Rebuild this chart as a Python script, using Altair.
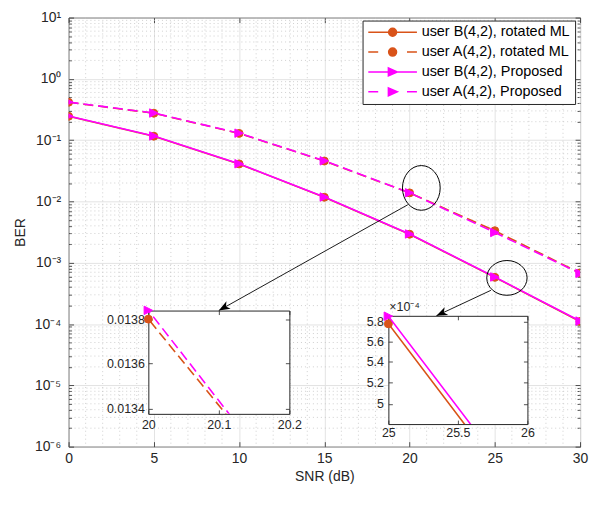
import altair as alt
import pandas as pd

# ------------------------------------------------------------------ data
snr = [0, 5, 10, 15, 20, 25, 30]
ber_userB_rotated_ml = [0.245, 0.116, 0.041, 0.0117, 0.00292, 5.78e-4, 1.10e-4]
ber_userA_rotated_ml = [0.415, 0.275, 0.129, 0.0457, 0.0138, 3.33e-3, 6.8e-4]
ber_userB_proposed = [0.247, 0.117, 0.0412, 0.0118, 0.00295, 5.86e-4, 1.12e-4]
ber_userA_proposed = [0.418, 0.277, 0.130, 0.0460, 0.01384, 3.12e-3, 6.7e-4]

series_names = [
    "user B(4,2), rotated ML",
    "user A(4,2), rotated ML",
    "user B(4,2), Proposed",
    "user A(4,2), Proposed",
]
series_values = [ber_userB_rotated_ml, ber_userA_rotated_ml,
                 ber_userB_proposed, ber_userA_proposed]

x_ticks = [0, 5, 10, 15, 20, 25, 30]
x_minor_grid = [v for v in range(1, 30) if v % 5 != 0]
y_ticks = [1e-6, 1e-5, 1e-4, 1e-3, 1e-2, 1e-1, 1.0, 10.0]
y_minor_ticks = [k * 10.0 ** e for e in range(-6, 1) for k in range(2, 10)]

inset1_x_domain = [20.0, 20.2]
inset1_y_domain = [0.013376, 0.013839]
inset1_x_ticks = [20.0, 20.1, 20.2]
inset1_y_ticks = [0.0134, 0.0136, 0.0138]

inset2_x_domain = [25.0, 26.0]
inset2_y_domain = [4.82e-4, 5.864e-4]
inset2_x_ticks = [25.0, 25.5, 26.0]
inset2_y_ticks = [5.0e-4, 5.2e-4, 5.4e-4, 5.6e-4, 5.8e-4]
inset2_exponent_text = ["\u00d710\u207b\u2074"]

ellipse_snr = [20.69, 25.71]
ellipse_ber = [0.01663, 5.66e-4]
arrow_from_snr = [19.9, 24.77]
arrow_from_ber = [0.00885, 3.55e-4]
arrow_to_snr = [8.81, 21.57]
arrow_to_ber = [1.66e-4, 1.36e-4]

# ------------------------------------------------------------------ style
FONT = "Liberation Sans, Arial, Helvetica, sans-serif"
AX = "#262626"
ORANGE = "#D95319"
MAGENTA = "#FF00FF"
MAJOR_GRID = "#e3e3e3"
MINOR_GRID = "#c4c4c4"
series_color = [ORANGE, ORANGE, MAGENTA, MAGENTA]
series_dashed = [False, True, False, True]
series_is_ml = [True, True, False, False]
DASH = [10, 5]
TRI = "M-1,-1L1,0L-1,1Z"
# legend symbols: line sample with the marker in its middle, drawn 3.7 units right of the nominal centre
CIRC = "M2.9,0A0.8,0.8 0 1,0 4.5,0A0.8,0.8 0 1,0 2.9,0Z"
TRI_L = "M2.85,-0.8L4.65,0L2.85,0.8Z"
legend_paths = [
    "M-1.2,0L8.6,0" + CIRC,
    "M-1.2,0L0.8,0M6.6,0L8.6,0" + CIRC,
    "M-1.2,0L8.6,0" + TRI_L,
    "M-1.2,0L0.8,0M6.6,0L8.6,0" + TRI_L,
]
ELL1 = "M-0.844,0A0.844,1 0 1,0 0.844,0A0.844,1 0 1,0 -0.844,0Z"
ELL2 = "M-1,0A1,0.862 0 1,0 1,0A1,0.862 0 1,0 -1,0Z"
ARROW = "M0,0L0.5,1.3L0,0.95L-0.5,1.3Z"
arrow_angles = [240.8, 245.2]

SUP_EXPR = ("'10' + (round(log(datum.value) / LN10) < 0 ? '\u207b' : '') + "
            "['\u2070','\u00b9','\u00b2','\u00b3','\u2074','\u2075','\u2076','\u2077','\u2078','\u2079']"
            "[abs(round(log(datum.value) / LN10))]")

W, H = 515, 432

rows = [{"snr": s, "ber": b, "series": n}
        for n, vals in zip(series_names, series_values)
        for s, b in zip(snr, vals)]
df = pd.DataFrame(rows)


def xenc(scale, field="snr", axis=None):
    return alt.X(field, type="quantitative", scale=scale, axis=axis)


def yenc(scale, field="ber", axis=None):
    return alt.Y(field, type="quantitative", scale=scale, axis=axis)


def data_layers(xs, ys, marker_filters=None, clip_markers=True, lw=1.6):
    layers = []
    for group in ([0, 1], [2, 3]):
        for i in group:
            kw = dict(color=series_color[i], strokeWidth=lw, clip=True)
            if series_dashed[i]:
                kw["strokeDash"] = DASH
            layers.append(
                alt.Chart(df)
                .transform_filter(alt.datum.series == series_names[i])
                .mark_line(**kw)
                .encode(x=xenc(xs), y=yenc(ys))
            )
        for i in group:
            if series_is_ml[i]:
                mk = dict(shape="circle", size=64)
            else:
                mk = dict(shape=TRI, size=72)
            base = alt.Chart(df).transform_filter(alt.datum.series == series_names[i])
            if marker_filters:
                for f in marker_filters:
                    base = base.transform_filter(f)
            layers.append(
                base.mark_point(filled=True, fill=series_color[i], stroke=series_color[i],
                                strokeWidth=1, opacity=1, clip=clip_markers, **mk)
                .encode(x=xenc(xs), y=yenc(ys))
            )
    return layers


def frame_layers(xs, ys, xdom, ydom, w, h, x_label_axis, y_label_axis,
                 x_major, y_major, y_minor=None, major=5, minor=3):
    cdf = pd.DataFrame({"cx": [xdom[0]], "cy": [ydom[0]]})
    base = alt.Chart(cdf).mark_point(opacity=0)
    tk = dict(labels=False, domain=False, grid=False, ticks=True,
              tickColor=AX, tickWidth=0.8, title=None)
    out = [base.encode(x=xenc(xs, "cx", x_label_axis), y=yenc(ys, "cy", y_label_axis))]
    out.append(base.encode(
        x=xenc(xs, "cx", alt.Axis(orient="top", offset=-h, values=x_major, tickSize=major, **tk)),
        y=yenc(ys, "cy", alt.Axis(orient="right", offset=-w, values=y_major, tickSize=major, **tk))))
    out.append(base.encode(
        x=xenc(xs, "cx", alt.Axis(orient="bottom", offset=-h, values=x_major, tickSize=major, **tk)),
        y=yenc(ys, "cy", alt.Axis(orient="left", offset=-w, values=y_major, tickSize=major, **tk))))
    if y_minor:
        out.append(base.encode(
            x=xenc(xs, "cx"),
            y=yenc(ys, "cy", alt.Axis(orient="right", offset=-w, values=y_minor, tickSize=minor, **tk))))
        out.append(base.encode(
            x=xenc(xs, "cx"),
            y=yenc(ys, "cy", alt.Axis(orient="left", offset=-w, values=y_minor, tickSize=minor, **tk))))
    return out


# ------------------------------------------------------------------ main plot
xs_main = alt.Scale(domain=[0, 30], nice=False, zero=False)
ys_main = alt.Scale(type="log", domain=[1e-6, 10], nice=False)

main_x_axis = alt.Axis(orient="bottom", values=x_ticks, format="~g", ticks=False, domain=False,
                       grid=True, gridColor=MAJOR_GRID, gridWidth=1, labelFontSize=14,
                       labelColor=AX, labelPadding=5, labelFlush=False, labelOverlap=False,
                       title="SNR (dB)", titleFontSize=14, titleFontWeight="normal",
                       titleColor=AX, titlePadding=4)
main_y_axis = alt.Axis(orient="left", values=y_ticks, labelExpr=SUP_EXPR, ticks=False, domain=False,
                       grid=True, gridColor=MAJOR_GRID, gridWidth=1, labelFontSize=14,
                       labelColor=AX, labelPadding=8, labelOverlap=False,
                       title="BER", titleFontSize=14, titleFontWeight="normal",
                       titleColor=AX, titlePadding=7)

grid_x = (alt.Chart(pd.DataFrame({"v": x_minor_grid}))
          .mark_rule(color=MINOR_GRID, strokeWidth=0.8, strokeDash=[1, 3])
          .encode(x=xenc(xs_main, "v")))
grid_y = (alt.Chart(pd.DataFrame({"v": y_minor_ticks}))
          .mark_rule(color=MINOR_GRID, strokeWidth=0.8, strokeDash=[1, 3])
          .encode(y=yenc(ys_main, "v")))

ell_layers = []
for i, (shp, sz) in enumerate([(ELL1, 2025), (ELL2, 1648)]):
    ell_layers.append(
        alt.Chart(pd.DataFrame({"snr": [ellipse_snr[i]], "ber": [ellipse_ber[i]]}))
        .mark_point(shape=shp, size=sz, filled=False, color="black", stroke="black",
                    strokeWidth=1, opacity=1)
        .encode(x=xenc(xs_main), y=yenc(ys_main))
    )

arr_df = pd.DataFrame({"x1": arrow_from_snr, "y1": arrow_from_ber,
                       "x2": arrow_to_snr, "y2": arrow_to_ber})
arrow_rules = (alt.Chart(arr_df).mark_rule(color="black", strokeWidth=0.9)
               .encode(x=xenc(xs_main, "x1"), y=yenc(ys_main, "y1"),
                       x2=alt.X2("x2"), y2=alt.Y2("y2")))
arrow_heads = []
for i in range(len(arrow_to_snr)):
    arrow_heads.append(
        alt.Chart(pd.DataFrame({"x2": [arrow_to_snr[i]], "y2": [arrow_to_ber[i]]}))
        .mark_point(shape=ARROW, size=300, angle=arrow_angles[i], filled=True,
                    color="black", opacity=1)
        .encode(x=xenc(xs_main, "x2"), y=yenc(ys_main, "y2"))
    )

leg = alt.Legend(title=None, orient="none", legendX=296, legendY=3, padding=4.5,
                 fillColor="white", strokeColor=AX, cornerRadius=0,
                 labelFont=FONT, labelFontSize=14.5, labelColor="black",
                 labelOffset=40.5, labelLimit=300, rowPadding=4,
                 symbolStrokeWidth=1.5, zindex=1)
legend_layer = (
    alt.Chart(pd.DataFrame({"series": series_names}))
    .transform_filter("false")
    .mark_point(size=100, strokeWidth=1.5, opacity=1)
    .encode(
        fill=alt.Fill("series:N", scale=alt.Scale(domain=series_names, range=series_color), legend=leg),
        stroke=alt.Stroke("series:N", scale=alt.Scale(domain=series_names, range=series_color), legend=leg),
        shape=alt.Shape("series:N", scale=alt.Scale(domain=series_names, range=legend_paths), legend=leg),
    )
)

main = alt.layer(
    grid_x, grid_y,
    *frame_layers(xs_main, ys_main, [0, 30], [1e-6, 10], W, H, main_x_axis, main_y_axis,
                  x_ticks, y_ticks, y_minor_ticks),
    *data_layers(xs_main, ys_main),
    *ell_layers, arrow_rules, *arrow_heads, legend_layer,
).resolve_axis(x="independent", y="independent").properties(
    width=W, height=H,
    view=alt.ViewBackground(fill="white", stroke=AX, strokeWidth=1),
)


# ------------------------------------------------------------------ insets
def make_inset(xdom, ydom, xt, yt, w, h, ylabel_expr, xpad, ypad, extra_text=None):
    xs = alt.Scale(domain=xdom, nice=False, zero=False)
    ys = alt.Scale(type="log", domain=ydom, nice=False)
    filt = [alt.FieldRangePredicate(field="snr", range=list(xdom)),
            alt.FieldRangePredicate(field="ber", range=[ydom[0] * 0.995, ydom[1] * 1.005])]
    xa = alt.Axis(orient="bottom", values=xt, format="~g", ticks=False, domain=False, grid=False,
                  labelFontSize=12.5, labelColor=AX, labelPadding=xpad, labelFlush=False,
                  labelOverlap=False, title=None)
    ya = alt.Axis(orient="left", values=yt, labelExpr=ylabel_expr, ticks=False, domain=False,
                  grid=False, labelFontSize=12.5, labelColor=AX, labelPadding=ypad,
                  labelOverlap=False, title=None)
    layers = frame_layers(xs, ys, xdom, ydom, w, h, xa, ya, xt, yt, major=4)
    layers += data_layers(xs, ys, marker_filters=filt, clip_markers=False)
    if extra_text:
        layers.append(
            alt.Chart(pd.DataFrame({"snr": [xdom[0]], "ber": [ydom[1]], "t": extra_text}))
            .mark_text(align="left", baseline="bottom", dx=1, dy=-2, fontSize=12.5,
                       font=FONT, color=AX)
            .encode(x=xenc(xs), y=yenc(ys), text="t:N")
        )
    return alt.layer(*layers).resolve_axis(x="independent", y="independent").properties(
        width=w, height=h,
        view=alt.ViewBackground(fill="white", stroke=AX, strokeWidth=1),
    )


inset1 = make_inset(inset1_x_domain, inset1_y_domain, inset1_x_ticks, inset1_y_ticks,
                    142, 104, "format(datum.value, '.4f')", 5, 4)
inset2 = make_inset(inset2_x_domain, inset2_y_domain, inset2_x_ticks, inset2_y_ticks,
                    140, 109, "format(datum.value * 10000, '.2~g')", 3, 5,
                    extra_text=inset2_exponent_text)

# ------------------------------------------------------------------ layout
I1X, I1Y = 80.3, 295.0
I2X, I2Y = 322.0, 300.3
spacer = alt.Chart(pd.DataFrame({"v": [0]})).mark_point(opacity=0).properties(width=1, height=1)

col_c = alt.vconcat(spacer, inset2, spacing=I2Y - I1Y - 1, bounds="flush")
row_b = alt.hconcat(inset1, col_c, spacing=I2X - I1X - 142, bounds="flush")
col_a = alt.vconcat(spacer, row_b, spacing=I1Y - 1, bounds="flush")
wrap_main = alt.vconcat(main, bounds="flush").resolve_legend(
    fill="independent", stroke="independent", shape="independent")

chart = (
    alt.hconcat(wrap_main, col_a, spacing=I1X, bounds="flush")
    .resolve_legend(fill="independent", stroke="independent", shape="independent")
    .properties(padding={"left": 4, "top": 0, "right": 0, "bottom": 0})
    .configure_view(strokeWidth=0)
    .configure_axis(labelFont=FONT, titleFont=FONT)
)

chart.save("out.html", embed_options={"renderer": "svg", "actions": False})
